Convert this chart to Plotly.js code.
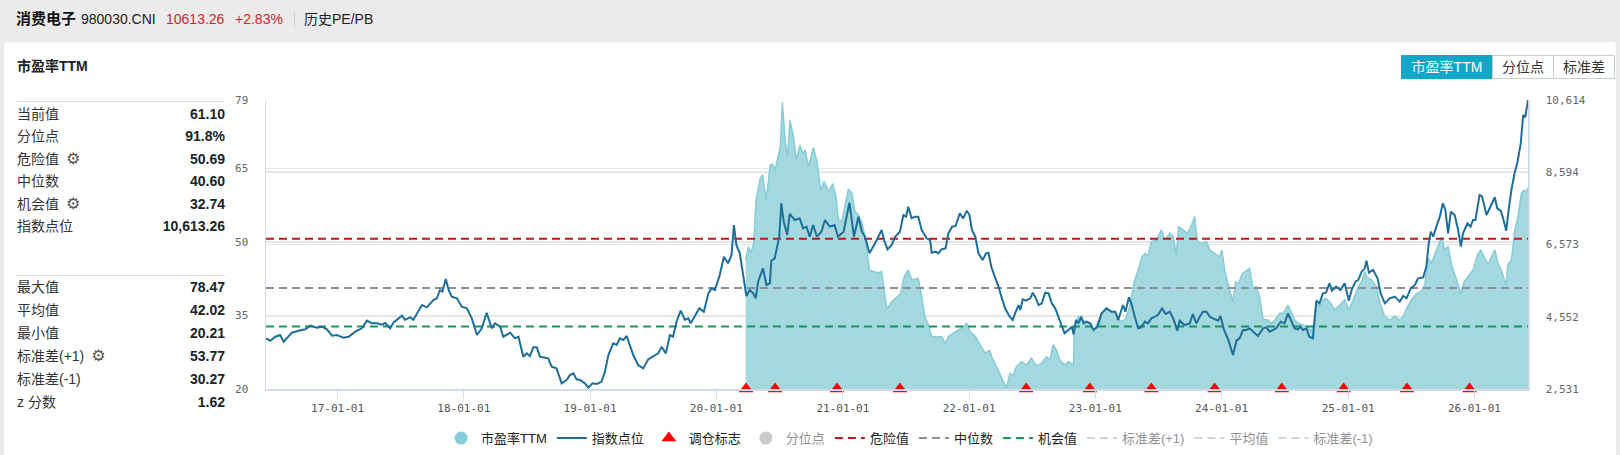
<!DOCTYPE html>
<html><head><meta charset="utf-8">
<script src="https://cdn.plot.ly/plotly-3.0.1.min.js"></script>
<style>
html,body{margin:0;padding:0;width:1620px;height:455px;overflow:hidden;background:#ebebeb;font-family:"Liberation Sans",Arial,"Noto Sans CJK SC",sans-serif;color:#333;}
.abs{position:absolute;white-space:nowrap;}
#card{position:absolute;left:4px;top:42px;width:1612px;height:420px;background:#fff;border-radius:4px;}
#chart{position:absolute;left:0;top:0;width:1620px;height:455px;}
.row{position:absolute;left:17px;width:208px;height:20px;line-height:20px;font-size:14px;color:#333;}
.row .v{position:absolute;right:0;top:0;font-weight:bold;color:#222;}
.gear{font-family:"DejaVu Sans";font-size:16px;color:#555;margin-left:7px;vertical-align:top;}
.sep{position:absolute;left:17px;width:208px;height:1px;background:#dcdcdc;}
.btn{position:absolute;top:55px;height:22px;line-height:22px;border:1px solid #ccc;font-size:14px;text-align:center;color:#333;background:#fff;box-sizing:content-box;}
</style></head>
<body>
<div class="abs" style="left:16px;top:9px;line-height:20px;font-size:15px;font-weight:bold;color:#111;">消费电子</div>
<div class="abs" style="left:81px;top:9px;line-height:20px;font-size:14px;color:#222;">980030.CNI</div>
<div class="abs" style="left:166px;top:9px;line-height:20px;font-size:14px;color:#d9232b;">10613.26</div>
<div class="abs" style="left:235px;top:9px;line-height:20px;font-size:14px;color:#d9232b;">+2.83%</div>
<div class="abs" style="left:294px;top:12px;width:1px;height:15px;background:#ccc;"></div>
<div class="abs" style="left:304px;top:9px;line-height:20px;font-size:14px;color:#222;">历史PE/PB</div>
<div id="card"></div>
<div class="abs" style="left:17px;top:56px;line-height:20px;font-size:14px;font-weight:bold;color:#222;">市盈率TTM</div>
<div id="panel"></div>
<div class="btn" style="left:1401px;width:90px;background:#10a6c8;border-color:#10a6c8;color:#fff;">市盈率TTM</div>
<div class="btn" style="left:1492px;width:60px;">分位点</div>
<div class="btn" style="left:1553px;width:60px;">标准差</div>
<div id="chart"></div>
<script>
// ---- statistics panel ----
const statLabels1 = ['当前值','分位点','危险值','中位数','机会值','指数点位'];
const statValues1 = ['61.10','91.8%','50.69','40.60','32.74','10,613.26'];
const statGear1 = [false,false,true,false,true,false];
const statLabels2 = ['最大值','平均值','最小值','标准差(+1)','标准差(-1)','z 分数'];
const statValues2 = ['78.47','42.02','20.21','53.77','30.27','1.62'];
const statGear2 = [false,false,false,true,false,false];

// ---- PE TTM series ----
const peDates = ['2020-03-26','2020-04-03','2020-04-10','2020-04-18','2020-04-25','2020-05-07','2020-05-14','2020-05-24','2020-06-05','2020-06-12','2020-06-19','2020-06-29','2020-07-04','2020-07-10','2020-07-18','2020-07-25','2020-08-01','2020-08-11','2020-08-19','2020-08-30','2020-09-07','2020-09-14','2020-09-23','2020-10-08','2020-10-19','2020-10-29','2020-11-08','2020-11-20','2020-12-03','2020-12-12','2020-12-19','2020-12-29','2021-01-07','2021-01-17','2021-01-27','2021-02-05','2021-02-15','2021-02-25','2021-03-06','2021-03-19','2021-03-30','2021-04-14','2021-04-23','2021-04-30','2021-05-08','2021-05-22','2021-06-04','2021-06-17','2021-06-27','2021-07-09','2021-07-19','2021-08-07','2021-08-17','2021-08-26','2021-09-05','2021-09-15','2021-09-29','2021-10-13','2021-10-25','2021-11-02','2021-11-16','2021-12-01','2021-12-15','2021-12-25','2022-01-03','2022-01-19','2022-02-01','2022-02-16','2022-03-02','2022-03-09','2022-03-21','2022-04-06','2022-04-19','2022-04-29','2022-05-08','2022-05-18','2022-06-02','2022-06-16','2022-06-30','2022-07-15','2022-07-30','2022-08-13','2022-08-22','2022-09-01','2022-09-11','2022-09-20','2022-10-05','2022-10-15','2022-10-30','2022-11-01','2022-11-13','2022-11-22','2022-12-01','2022-12-17','2022-12-27','2023-01-07','2023-01-19','2023-02-02','2023-02-17','2023-03-03','2023-03-13','2023-03-27','2023-04-08','2023-04-15','2023-04-25','2023-05-05','2023-05-16','2023-05-26','2023-06-02','2023-06-12','2023-06-27','2023-07-11','2023-07-21','2023-08-04','2023-08-14','2023-08-23','2023-08-30','2023-09-12','2023-09-24','2023-10-06','2023-10-15','2023-10-23','2023-11-04','2023-11-18','2023-11-28','2023-12-12','2023-12-26','2024-01-02','2024-01-10','2024-01-24','2024-02-03','2024-02-10','2024-02-19','2024-03-01','2024-03-10','2024-03-22','2024-04-01','2024-04-10','2024-04-20','2024-04-30','2024-05-14','2024-05-24','2024-06-03','2024-06-18','2024-06-27','2024-07-11','2024-07-20','2024-07-30','2024-08-11','2024-08-23','2024-09-07','2024-09-16','2024-09-24','2024-10-01','2024-10-10','2024-10-20','2024-10-29','2024-11-11','2024-11-23','2024-12-07','2024-12-22','2025-01-03','2025-01-16','2025-01-30','2025-02-09','2025-02-18','2025-02-23','2025-03-09','2025-03-24','2025-04-03','2025-04-17','2025-05-01','2025-05-16','2025-05-30','2025-06-09','2025-06-19','2025-07-03','2025-07-18','2025-08-01','2025-08-11','2025-08-20','2025-08-30','2025-09-13','2025-09-28','2025-10-07','2025-10-17','2025-10-27','2025-11-10','2025-11-23','2025-12-02','2025-12-14','2025-12-28','2026-01-10','2026-01-19','2026-01-29','2026-02-10','2026-02-19','2026-03-01','2026-03-10','2026-03-20','2026-04-03','2026-04-08','2026-04-18','2026-04-28','2026-05-07','2026-05-17','2026-05-24','2026-05-31','2026-06-05'];
const peValues = [46.3,49.1,47.8,49.7,58.6,63.0,63.7,58.6,65.7,65.9,64.7,68.1,69.5,78.5,70.8,67.4,74.9,71.5,66.8,69.8,68.1,68.8,65.4,69.3,66.1,60.6,62.4,60.3,61.9,59.3,54.5,54.2,57.6,60.8,60.0,56.2,55.6,53.9,51.1,44.3,44.0,43.7,44.0,40.2,36.3,37.8,38.7,39.5,42.9,44.3,42.3,42.6,38.8,34.8,33.1,30.7,30.6,30.7,29.3,30.7,31.4,32.1,32.7,33.4,31.8,30.7,29.0,27.3,27.9,26.3,24.6,22.2,20.2,23.2,22.8,24.6,25.6,24.9,26.3,24.7,25.3,26.6,25.9,29.0,27.9,25.9,24.9,25.6,24.9,32.7,34.8,34.1,33.8,33.4,31.7,33.4,35.5,36.2,35.8,35.2,33.8,34.1,36.2,38.8,42.3,44.3,47.0,47.7,47.0,50.1,50.4,52.5,50.4,51.8,51.1,47.4,53.1,52.5,51.8,53.4,55.2,50.1,49.7,50.1,48.4,47.7,47.0,48.4,44.3,40.2,37.8,41.9,41.5,43.6,44.0,44.6,40.5,40.9,38.8,34.2,34.1,33.4,34.1,35.5,35.4,37.1,35.8,34.1,33.4,33.1,32.7,31.7,33.4,37.5,36.8,38.2,38.5,37.5,36.2,37.1,38.2,36.2,38.2,40.9,41.9,44.0,42.9,42.3,40.9,37.5,34.8,34.1,34.8,34.1,34.8,36.5,38.2,39.5,39.9,41.5,46.7,45.7,48.4,51.1,48.4,49.1,45.4,42.3,39.5,41.9,42.9,44.3,47.4,48.4,47.0,45.4,47.0,48.4,45.7,44.3,41.2,45.4,46.3,52.5,55.2,60.0,60.6,60.3,61.1];

// ---- index level series ----
const indexDates = ['2016-06-08','2016-06-20','2016-07-05','2016-07-19','2016-07-29','2016-08-12','2016-08-22','2016-09-10','2016-09-30','2016-10-14','2016-11-02','2016-11-17','2016-12-01','2016-12-16','2016-12-30','2017-01-18','2017-02-02','2017-02-21','2017-03-12','2017-03-27','2017-04-10','2017-04-25','2017-05-09','2017-05-19','2017-06-02','2017-06-12','2017-07-06','2017-07-15','2017-07-30','2017-08-08','2017-08-23','2017-09-02','2017-09-16','2017-10-05','2017-10-15','2017-10-24','2017-10-31','2017-11-10','2017-11-18','2017-11-27','2017-12-12','2017-12-26','2018-01-10','2018-01-24','2018-02-08','2018-02-22','2018-03-08','2018-03-23','2018-04-01','2018-04-16','2018-04-25','2018-05-15','2018-05-29','2018-06-08','2018-06-22','2018-07-02','2018-07-11','2018-07-21','2018-07-31','2018-08-09','2018-08-24','2018-09-02','2018-09-12','2018-09-26','2018-10-11','2018-10-25','2018-11-04','2018-11-14','2018-11-23','2018-12-03','2018-12-17','2018-12-27','2019-01-08','2019-01-20','2019-02-03','2019-02-13','2019-02-23','2019-03-09','2019-03-19','2019-03-28','2019-04-07','2019-04-17','2019-04-24','2019-05-06','2019-05-20','2019-06-04','2019-06-18','2019-07-03','2019-07-17','2019-07-27','2019-08-08','2019-08-20','2019-08-29','2019-09-08','2019-09-20','2019-10-02','2019-10-12','2019-10-19','2019-10-31','2019-11-13','2019-11-26','2019-12-09','2019-12-18','2019-12-28','2020-01-11','2020-01-23','2020-02-04','2020-02-14','2020-02-21','2020-02-28','2020-03-09','2020-03-19','2020-03-28','2020-04-07','2020-04-17','2020-04-24','2020-05-01','2020-05-15','2020-05-25','2020-06-04','2020-06-08','2020-06-18','2020-07-01','2020-07-07','2020-07-14','2020-07-24','2020-07-31','2020-08-15','2020-08-29','2020-09-08','2020-09-18','2020-09-27','2020-10-07','2020-10-18','2020-10-31','2020-11-10','2020-11-24','2020-12-08','2020-12-18','2021-01-03','2021-01-20','2021-02-02','2021-02-15','2021-02-25','2021-03-06','2021-03-19','2021-03-30','2021-04-09','2021-04-23','2021-04-30','2021-05-10','2021-05-22','2021-06-01','2021-06-15','2021-06-25','2021-07-03','2021-07-09','2021-07-19','2021-07-28','2021-08-07','2021-08-17','2021-08-31','2021-09-10','2021-09-15','2021-09-26','2021-10-04','2021-10-13','2021-10-25','2021-11-02','2021-11-13','2021-11-23','2021-12-05','2021-12-15','2021-12-25','2022-01-02','2022-01-09','2022-01-19','2022-01-28','2022-02-09','2022-02-19','2022-02-26','2022-03-06','2022-03-18','2022-03-27','2022-04-06','2022-04-15','2022-04-27','2022-05-07','2022-05-14','2022-05-24','2022-05-29','2022-06-05','2022-06-14','2022-06-27','2022-07-04','2022-07-11','2022-07-21','2022-07-30','2022-08-09','2022-08-19','2022-08-28','2022-09-07','2022-09-16','2022-09-26','2022-10-04','2022-10-15','2022-10-25','2022-10-30','2022-11-06','2022-11-13','2022-11-21','2022-11-28','2022-12-07','2022-12-17','2022-12-27','2023-01-07','2023-01-19','2023-02-02','2023-02-17','2023-02-28','2023-03-08','2023-03-22','2023-03-29','2023-04-08','2023-04-15','2023-04-25','2023-05-05','2023-05-14','2023-05-24','2023-06-02','2023-06-12','2023-06-22','2023-07-01','2023-07-13','2023-07-23','2023-08-04','2023-08-14','2023-08-26','2023-09-02','2023-09-16','2023-10-01','2023-10-10','2023-10-20','2023-10-30','2023-11-08','2023-11-18','2023-11-28','2023-12-07','2023-12-22','2023-12-29','2024-01-08','2024-01-20','2024-01-27','2024-02-03','2024-02-13','2024-02-22','2024-03-03','2024-03-12','2024-03-22','2024-04-01','2024-04-15','2024-04-30','2024-05-09','2024-05-19','2024-05-28','2024-06-07','2024-06-20','2024-07-01','2024-07-11','2024-07-20','2024-07-30','2024-08-09','2024-08-16','2024-08-23','2024-09-02','2024-09-11','2024-09-21','2024-10-01','2024-10-10','2024-10-20','2024-10-29','2024-11-08','2024-11-15','2024-11-27','2024-12-10','2024-12-22','2025-01-03','2025-01-11','2025-01-22','2025-01-30','2025-02-09','2025-02-18','2025-02-23','2025-03-02','2025-03-14','2025-03-27','2025-04-05','2025-04-17','2025-05-01','2025-05-16','2025-05-30','2025-06-09','2025-06-19','2025-07-01','2025-07-13','2025-07-22','2025-08-06','2025-08-15','2025-08-22','2025-08-28','2025-09-04','2025-09-13','2025-09-23','2025-10-02','2025-10-09','2025-10-17','2025-10-25','2025-11-05','2025-11-15','2025-11-23','2025-11-29','2025-12-12','2025-12-21','2025-12-28','2026-01-04','2026-01-16','2026-01-23','2026-02-05','2026-02-14','2026-03-01','2026-03-08','2026-03-18','2026-03-25','2026-04-03','2026-04-10','2026-04-18','2026-04-28','2026-05-05','2026-05-15','2026-05-22','2026-05-28','2026-06-05'];
const indexValues = [3949,3882,3994,4041,3854,3994,4106,4162,4200,4302,4246,4274,4200,4022,4041,3966,3994,4134,4228,4442,4368,4368,4330,4377,4228,4395,4582,4470,4536,4470,4721,4880,4815,5020,5067,5300,5253,5607,5300,5113,5067,4833,4786,4507,4041,4228,4665,4228,4368,4274,3994,4106,3947,3994,3435,3528,3454,3696,3696,3435,3407,3388,3155,3108,2689,2782,2922,2969,2801,2782,2689,2568,2689,2670,2735,3016,3482,3808,3761,3948,3901,4013,3808,3482,3202,3108,3360,3435,3528,3715,3528,4041,3994,4414,4721,4470,4507,4368,4554,4787,4693,5206,5346,5300,5719,6232,6046,6279,7118,6559,6325,5672,5132,5300,5206,5067,5533,5906,5440,5486,6120,6185,6791,7724,7211,6838,7425,7258,7304,7025,7071,6791,7118,6791,6931,7258,7071,7118,6791,6931,7742,6791,7351,6931,6791,6325,6512,6698,6978,6698,6437,6559,6791,6931,7397,7351,7630,7304,7351,7351,6978,6745,6698,6344,6372,6325,6437,6465,6885,7071,7090,7444,7304,7518,7397,6978,6791,6325,6139,6325,6344,5952,5626,5393,5066,4787,4573,4461,4647,4880,4740,5039,5002,5067,5225,5113,4880,4927,5225,5206,4927,4787,4554,4274,4088,4181,4274,4060,4461,4367,4554,4367,4414,4367,4181,4274,4647,4787,4693,4693,4461,4880,4693,5095,4927,4554,4228,4256,4414,4367,4507,4554,4600,4787,4628,4693,4507,4162,4442,4321,4367,4628,4367,4554,4693,4693,4554,4507,4442,4573,4181,3920,3700,3482,3882,3947,4181,4181,4228,4134,4013,4228,4256,4134,4181,4228,4414,4367,4647,4461,4228,4200,4274,4181,4228,3994,3947,5001,4927,5206,5225,5486,5281,5393,5300,5486,5001,5300,5533,5579,5812,5906,6120,5784,5859,5626,5206,4927,5067,5113,4973,5132,5067,5346,5440,5626,5653,5952,6605,6931,6791,7071,7351,7724,7537,6885,7491,7397,6978,6512,6885,7164,7071,7258,7258,7957,7926,7397,7584,7895,7584,7518,7304,6959,7537,8097,8609,8843,9402,10194,10129,10613];

// ---- rebalance markers ----
const rebalanceDates = ['2020-03-27','2020-06-19','2020-12-15','2021-06-15','2022-06-15','2022-12-16','2023-06-12','2023-12-12','2024-06-23','2024-12-19','2025-06-20','2025-12-18'];

// ---- reference levels ----
const refNames = ['危险值','中位数','机会值'];
const refValues = [50.69, 40.60, 32.74];
const refColors = ['#c0161e','#8a8f98','#17985a'];
const sdNames = ['标准差(+1)','平均值','标准差(-1)'];
const sdValues = [53.77, 42.02, 30.27];

// ---- axis ticks ----
const peTicks = [20, 35, 50, 65, 79];
const indexTicks = [2531, 4552, 6573, 8594, 10614];

// build the left panel
(function(){
  const p = document.getElementById('panel');
  function addRows(labels, values, gears, centers){
    labels.forEach((l,i)=>{
      const d = document.createElement('div');
      d.className='row';
      d.style.top = (centers[i]-10)+'px';
      d.innerHTML = '<span>'+l+'</span>'+(gears[i]?'<span class="gear">\u2699\uFE0E</span>':'')+'<span class="v">'+values[i]+'</span>';
      p.appendChild(d);
    });
  }
  const s1 = document.createElement('div'); s1.className='sep'; s1.style.top='101px'; p.appendChild(s1);
  const s2 = document.createElement('div'); s2.className='sep'; s2.style.top='275px'; p.appendChild(s2);
  addRows(statLabels1, statValues1, statGear1, [113.5,136,158.5,181,203.5,226]);
  addRows(statLabels2, statValues2, statGear2, [287,310,333,356,378.5,401.5]);
})();

const xStart = indexDates[0], xEnd = indexDates[indexDates.length-1];
const traces = [];
traces.push({x:peDates, y:peValues, type:'scatter', mode:'lines', fill:'tozeroy', fillcolor:'#a3d8df',
  line:{color:'#87ccd6', width:1.5}, showlegend:false, hoverinfo:'skip', legendgroup:'pe'});
refNames.forEach((n,i)=>{
  traces.push({x:[xStart,xEnd], y:[refValues[i],refValues[i]], type:'scatter', mode:'lines', name:n,
    line:{color:refColors[i], width:2, dash:'8px,5px'}, legendrank:5+i});
});
traces.push({x:indexDates, y:indexValues, yaxis:'y2', type:'scatter', mode:'lines', name:'指数点位',
  line:{color:'#1f6e9a', width:2}, legendrank:2});
traces.push({x:rebalanceDates, y:rebalanceDates.map(()=>peTicks[0]), type:'scatter', mode:'markers', name:'调仓标志',
  marker:{symbol:'triangle-up', size:13, color:'#ff0000'}, cliponaxis:false, legendrank:3});
traces.push({x:[null], y:[null], type:'scatter', mode:'markers', name:'市盈率TTM',
  marker:{symbol:'circle', size:13, color:'#86ccd6'}, legendrank:1, legendgroup:'pe'});
traces.push({x:[null], y:[null], type:'scatter', mode:'markers', name:'分位点', visible:'legendonly',
  marker:{symbol:'circle', size:13, color:'#999'}, legendrank:4});
sdNames.forEach((n,i)=>{
  traces.push({x:[xStart,xEnd], y:[sdValues[i],sdValues[i]], type:'scatter', mode:'lines', name:n, visible:'legendonly',
    line:{color:'#aaa', width:2, dash:'8px,5px'}, legendrank:8+i});
});

const tickFont = {family:'DejaVu Sans Mono', size:11, color:'#666'};
const layout = {
  width:1620, height:455,
  margin:{l:266, r:92, t:100, b:66, pad:0, autoexpand:false},
  paper_bgcolor:'rgba(0,0,0,0)', plot_bgcolor:'rgba(0,0,0,0)',
  showlegend:true,
  legend:{orientation:'h', x:0.51, xanchor:'center', y:-0.17, yanchor:'middle',
    font:{family:'Liberation Sans, Noto Sans CJK SC, sans-serif', size:13, color:'#222'},
    itemwidth:30, traceorder:'normal', bgcolor:'rgba(0,0,0,0)'},
  xaxis:{type:'date', range:[xStart,xEnd], tick0:'2017-01-01', dtick:'M12', tickformat:'%y-%m-%d',
    showgrid:false, zeroline:false, showline:true, linecolor:'#d3dbe6', linewidth:1.5,
    ticks:'outside', ticklen:8, tickcolor:'#d3dbe6', tickwidth:1,
    tickfont:{family:'DejaVu Sans Mono', size:11, color:'#555'}, fixedrange:true},
  yaxis:{range:[peTicks[0], peTicks[peTicks.length-1]], tickmode:'array', tickvals:peTicks,
    showgrid:true, gridcolor:'#e6e6e6', gridwidth:1.5, zeroline:false,
    showline:true, linecolor:'#d3dbe6', linewidth:1.5, ticks:'', ticklabelstandoff:14,
    tickfont:tickFont, fixedrange:true},
  yaxis2:{overlaying:'y', side:'right', range:[indexTicks[0], indexTicks[indexTicks.length-1]],
    tickmode:'array', tickvals:indexTicks, tickformat:',d',
    showgrid:true, gridcolor:'#e6e6e6', gridwidth:1.5, zeroline:false,
    showline:true, linecolor:'#d3dbe6', linewidth:1.5, ticks:'', ticklabelstandoff:14,
    tickfont:tickFont, fixedrange:true}
};
Plotly.newPlot('chart', traces, layout, {displayModeBar:false, staticPlot:true});
</script>
</body></html>
